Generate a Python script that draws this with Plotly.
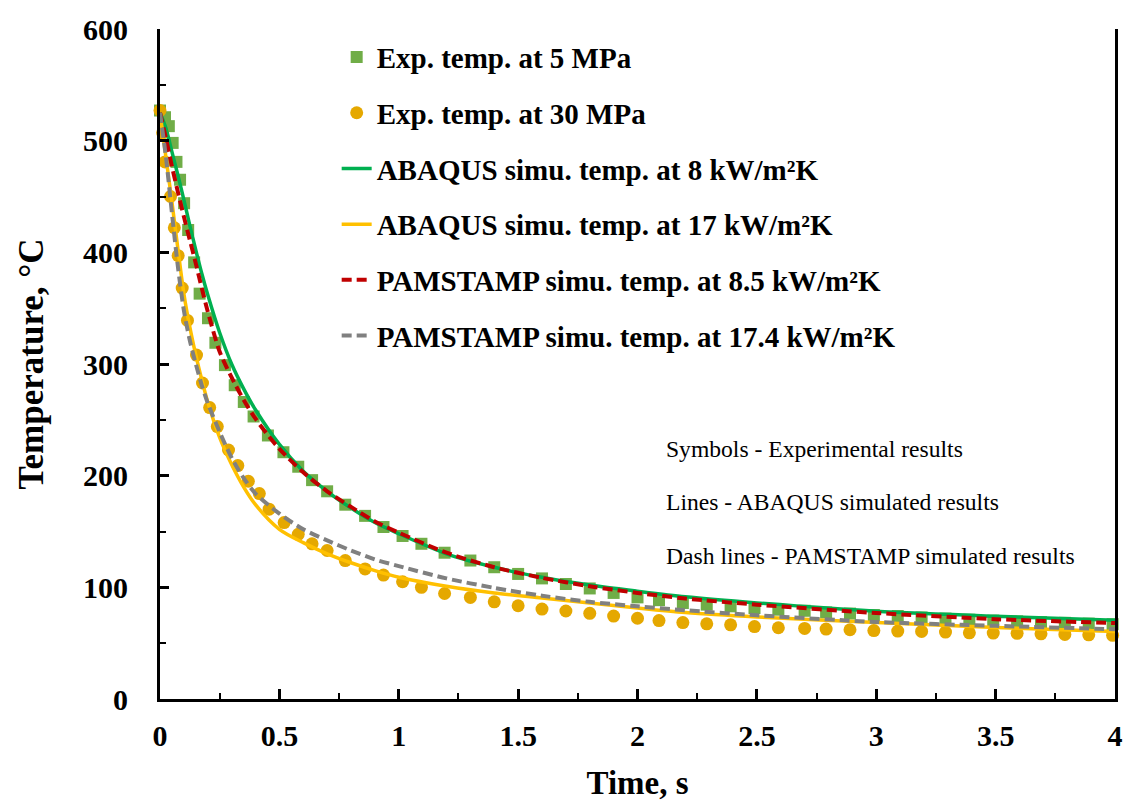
import plotly.graph_objects as go

# ---------------- data ----------------
t_exp5 = [0, 0.021, 0.037, 0.053, 0.069, 0.084, 0.101, 0.118, 0.143, 0.166,
          0.201, 0.232, 0.272, 0.313, 0.351, 0.392, 0.452, 0.517, 0.579, 0.637,
          0.700, 0.776, 0.859, 0.936, 1.016, 1.095, 1.192, 1.30, 1.40, 1.50,
          1.60, 1.70, 1.80, 1.90, 2.00, 2.09, 2.19, 2.29, 2.39, 2.49,
          2.59, 2.70, 2.79, 2.89, 2.99, 3.09, 3.19, 3.29, 3.39, 3.49,
          3.59, 3.69, 3.79, 3.89, 3.99]
temp_exp5 = [527, 521, 513, 498, 481, 465, 444, 420, 391, 363,
             341, 319, 299, 281, 266, 253, 236, 221, 208, 196,
             186, 174, 164, 154, 146, 139, 131, 124, 118, 112,
             108, 103, 99, 95, 91, 88.5, 86, 84.5, 83, 81.5,
             80, 79, 77.5, 76.5, 75.2, 74.3, 73, 72, 71, 70.2,
             69.5, 68.8, 68.2, 67.5, 67]

t_exp30 = [0, 0.011, 0.021, 0.044, 0.060, 0.076, 0.093, 0.115, 0.153, 0.178,
           0.208, 0.240, 0.287, 0.326, 0.370, 0.416, 0.457, 0.520, 0.579, 0.637,
           0.700, 0.776, 0.859, 0.936, 1.016, 1.095, 1.192, 1.30, 1.40, 1.50,
           1.60, 1.70, 1.80, 1.90, 2.00, 2.09, 2.19, 2.29, 2.39, 2.49,
           2.59, 2.70, 2.79, 2.89, 2.99, 3.09, 3.19, 3.29, 3.39, 3.49,
           3.59, 3.69, 3.79, 3.89, 3.99]
temp_exp30 = [527, 507, 481, 450, 422, 397, 368, 339, 308, 283,
              261, 244, 223, 209, 195, 184, 170, 158, 147.5, 139,
              133, 124, 116.5, 111, 105, 100, 94.5, 91, 87, 83.5,
              80.5, 78.8, 76.7, 74.3, 72.3, 70.2, 68.4, 67.3, 66.4, 64.9,
              63.8, 63.2, 62.6, 62, 61.3, 60.8, 60.5, 59.9, 59.3, 59,
              58.8, 58.4, 57.8, 57.5, 57]

t_sim = [0, 0.025, 0.05, 0.075, 0.1, 0.125, 0.15, 0.175, 0.2,
         0.25, 0.3, 0.35, 0.4, 0.5, 0.6, 0.7, 0.8, 0.9, 1.0,
         1.2, 1.4, 1.6, 1.8, 2.0, 2.2, 2.5, 3.0, 3.5, 4.0]
abaqus_8 = [525, 511, 490, 469, 447, 424, 402, 381, 362,
            328, 300, 278, 259, 228, 204, 186, 171, 158, 148,
            130, 118, 109, 102, 96.5, 91.5, 86, 78.5, 74, 70.5]
abaqus_17 = [525, 485, 445, 403, 363, 333, 308, 286, 266,
             234, 210, 190, 174, 152, 140, 130, 122, 115, 109,
             101, 95, 90.5, 86, 81.5, 77.5, 73.5, 68.5, 64, 60.5]
pam_85 = [525, 502, 477, 454, 432, 411, 390, 368, 347,
          311, 288, 268, 251, 224, 203, 186, 172, 159, 149,
          131, 118, 108.5, 101, 95, 90, 84.5, 77, 71.5, 68]
pam_174 = [525, 485, 435, 387, 348, 321, 300, 281, 265,
           239, 216, 198, 184, 166, 152, 142, 133, 125, 119,
           108, 99.5, 92.5, 87, 83, 79.5, 75, 69, 65.5, 62.5]

names = ["Exp. temp. at 5 MPa", "Exp. temp. at 30 MPa",
         "ABAQUS simu. temp. at 8 kW/m²K", "ABAQUS simu. temp. at 17 kW/m²K",
         "PAMSTAMP simu. temp. at 8.5 kW/m²K", "PAMSTAMP simu. temp. at 17.4 kW/m²K"]

notes = ["Symbols - Experimental results",
         "Lines - ABAQUS simulated results",
         "Dash lines - PAMSTAMP simulated results"]

FONT = "Liberation Serif, Times New Roman, serif"

fig = go.Figure()
fig.add_trace(go.Scatter(x=t_exp5, y=temp_exp5, mode="markers", name=names[0],
                         legendgroup="g1", cliponaxis=False,
                         marker=dict(symbol="square", size=12, color="#70AD47")))
fig.add_trace(go.Scatter(x=t_exp30, y=temp_exp30, mode="markers", name=names[1],
                         legendgroup="g2", cliponaxis=False,
                         marker=dict(symbol="circle", size=13, color="#E5A800")))
fig.add_trace(go.Scatter(x=t_sim, y=abaqus_8, mode="lines", name=names[2],
                         legendgroup="g3",
                         line=dict(color="#00B050", width=3.5, shape="spline", smoothing=0.8)))
fig.add_trace(go.Scatter(x=t_sim, y=abaqus_17, mode="lines", name=names[3],
                         legendgroup="g4",
                         line=dict(color="#FFC000", width=3.5, shape="spline", smoothing=0.8)))
fig.add_trace(go.Scatter(x=t_sim, y=pam_85, mode="lines", name=names[4],
                         legendgroup="g5",
                         line=dict(color="#C00000", width=4, dash="10px,5px", shape="spline", smoothing=0.8)))
fig.add_trace(go.Scatter(x=t_sim, y=pam_174, mode="lines", name=names[5],
                         legendgroup="g6",
                         line=dict(color="#808080", width=4, dash="10px,5px", shape="spline", smoothing=0.8)))

note_y = [0.373, 0.2935, 0.2139]
for txt, yy in zip(notes, note_y):
    fig.add_annotation(text=txt, x=0.528, y=yy, xref="paper", yref="paper",
                       xanchor="left", yanchor="middle", showarrow=False,
                       font=dict(family=FONT, size=23.6, color="black"))

fig.update_layout(
    width=1135, height=807,
    margin=dict(l=160, r=13, t=22, b=107),
    paper_bgcolor="white", plot_bgcolor="white",
    font=dict(family=FONT, color="black"),
    showlegend=True,
    legend=dict(x=0.185, y=0.996, xanchor="left", yanchor="top",
                bgcolor="rgba(0,0,0,0)", traceorder="grouped",
                tracegroupgap=15,
                font=dict(family=FONT, size=29, color="black", weight="bold")),
    xaxis=dict(range=[0, 4], dtick=0.5, tick0=0, showgrid=False, zeroline=False,
               showline=True, linecolor="black", linewidth=3,
               ticks="inside", ticklen=10, tickwidth=2.5, tickcolor="black",
               minor=dict(dtick=0.25, ticks="inside", ticklen=6, tickwidth=2, tickcolor="black"),
               ticklabelstandoff=8,
               tickfont=dict(family=FONT, size=30, color="black", weight="bold"),
               title=dict(text="Time, s", standoff=20,
                          font=dict(family=FONT, size=33, color="black", weight="bold"))),
    yaxis=dict(range=[0, 600], dtick=100, tick0=0, showgrid=False, zeroline=False,
               showline=True, linecolor="black", linewidth=3, mirror=True,
               ticks="inside", ticklen=9, tickwidth=2.5, tickcolor="black",
               minor=dict(dtick=50, ticks="inside", ticklen=6, tickwidth=2, tickcolor="black"),
               ticklabelstandoff=23,
               tickfont=dict(family=FONT, size=30, color="black", weight="bold"),
               title=dict(text="Temperature, °C", standoff=29,
                          font=dict(family=FONT, size=35, color="black", weight="bold"))),
)

fig.write_html("out.html")
